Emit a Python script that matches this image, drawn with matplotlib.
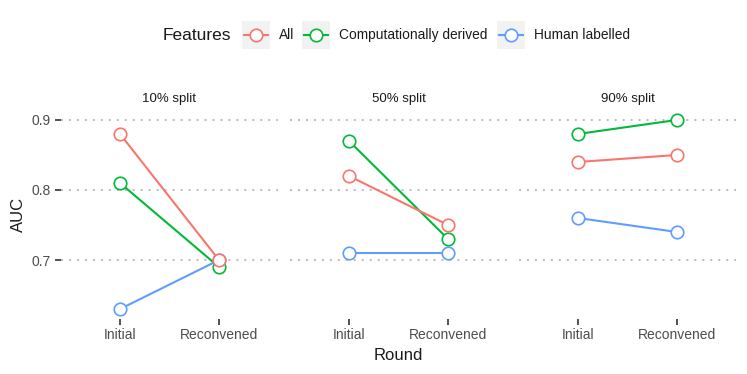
import matplotlib
matplotlib.use("Agg")
import matplotlib.pyplot as plt
from matplotlib.lines import Line2D
from matplotlib.patches import Rectangle

plt.rcParams['font.family'] = ['Liberation Sans', 'DejaVu Sans']

splits = ["10% split", "50% split", "90% split"]
rounds = ["Initial", "Reconvened"]
features = ["All", "Computationally derived", "Human labelled"]
colors = ["#F8766D", "#00BA38", "#619CFF"]

auc_all = [[0.88, 0.70], [0.82, 0.75], [0.84, 0.85]]
auc_comp = [[0.81, 0.69], [0.87, 0.73], [0.88, 0.90]]
auc_human = [[0.63, 0.70], [0.71, 0.71], [0.76, 0.74]]
series = [auc_all, auc_comp, auc_human]

W, H = 747, 374
fig = plt.figure(figsize=(W / 100, H / 100), dpi=100)

top, bottom = 110.5, 318.5
lefts = [60.6, 289.6, 518.6]
pw = 217.8
x = [1, 2]
zorders = [5, 4, 3]

for i, name in enumerate(splits):
    ax = fig.add_axes([lefts[i] / W, (H - bottom) / H, pw / W, (bottom - top) / H])
    for s, col, z in zip(series, colors, zorders):
        ax.plot(x, s[i], color=col, lw=1.5, zorder=z)
    for s, col, z in zip(series, colors, zorders):
        ax.plot(x, s[i], ls='none', marker='o', ms=9, mfc='white', mec=col,
                mew=1.2, zorder=z + 5)
    ax.set_xlim(0.4, 2.6)
    ax.set_ylim(0.6165, 0.9135)
    ax.set_xticks(x)
    ax.set_xticklabels(rounds)
    ax.set_yticks([0.7, 0.8, 0.9])
    ax.grid(axis='y', color='#BBBBBB', ls=(0, (1, 3.1)), lw=1.4)
    ax.set_axisbelow(True)
    for sp in ax.spines.values():
        sp.set_visible(False)
    ax.tick_params(axis='both', labelsize=10, labelcolor='#4D4D4D',
                   color='#333333', length=4, width=1.2, pad=3)
    if i == 0:
        ax.set_yticklabels(["0.7", "0.8", "0.9"])
        ax.set_ylabel("AUC", fontsize=12, color="#1A1A1A", labelpad=4)
    else:
        ax.tick_params(axis='y', length=0, labelleft=False)
    ax.set_title(name, fontsize=9.5, color='#1A1A1A', pad=6)
    if i == 1:
        ax.set_xlabel("Round", fontsize=12, color="#1A1A1A", labelpad=4)

# legend drawn by hand to get ggplot-like keys
ly = (H - 35) / H
fig.text(163 / W, ly, "Features", fontsize=12.5, color='#1A1A1A',
         va='center', ha='left')
key_x = [242, 302, 497]
for kx, col, lab in zip(key_x, colors, features):
    fig.add_artist(Rectangle((kx / W, (H - 49) / H), 28 / W, 28 / H,
                             transform=fig.transFigure, facecolor='#F2F2F2',
                             edgecolor='none'))
    fig.add_artist(Line2D([(kx + 2) / W, (kx + 26) / W], [ly, ly],
                          transform=fig.transFigure, color=col, lw=1.5))
    fig.add_artist(Line2D([(kx + 14) / W], [ly], transform=fig.transFigure,
                          ls='none', marker='o', ms=9, mfc='white', mec=col, mew=1.2))
    fig.text((kx + 37) / W, ly, lab, fontsize=9.9, color='#1A1A1A',
             va='center', ha='left')

fig.savefig("out.png", dpi=100)
